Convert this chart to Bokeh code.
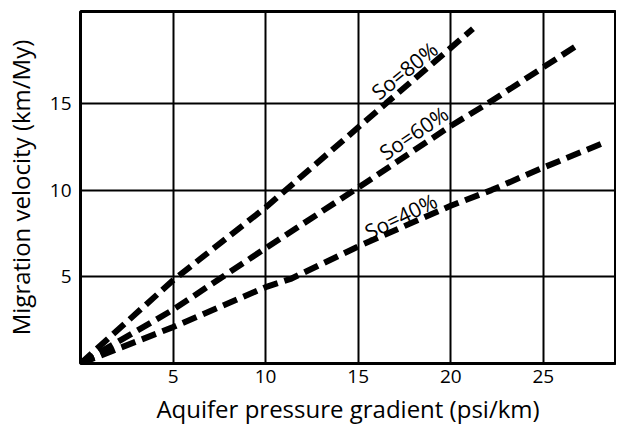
from bokeh.plotting import figure
from bokeh.models import FixedTicker, Range1d, ColumnDataSource
from bokeh.core.properties import value
from bokeh.embed import file_html
from bokeh.resources import INLINE
import math

# Data
x80 = [0, 5, 10, 16.5, 21.2]
y80 = [0, 4.8, 9.0, 15.0, 19.3]
x60 = [0, 5, 10, 14.8, 20, 22.0, 26.9]
y60 = [0, 3.1, 6.65, 10.0, 13.7, 15.0, 18.4]
x40 = [0, 5, 10, 11.4, 15, 20, 22.2, 25, 28.2]
y40 = [0, 2.1, 4.4, 4.9, 6.75, 9.1, 10.0, 11.3, 12.7]

label_text = ["So=80%", "So=60%", "So=40%"]
label_x = [17.5, 18.0, 17.3]
label_y = [16.9, 13.3, 8.5]
label_angle_deg = [39, 34, 26]

x_ticks = [5, 10, 15, 20, 25]
y_ticks = [5, 10, 15]

FONT = "Open Sans"

p = figure(width=616, height=427, output_backend="svg", toolbar_location=None,
           x_range=Range1d(0, 28.9), y_range=Range1d(0, 20.3),
           min_border_left=76, min_border_right=1, min_border_top=11, min_border_bottom=64)

p.outline_line_color = "black"
p.outline_line_width = 3
p.outline_line_alpha = 1

for ax in (p.xaxis[0], p.yaxis[0]):
    ax.axis_line_color = None
    ax.major_tick_line_color = None
    ax.minor_tick_line_color = None
    ax.major_tick_out = 0
    ax.major_tick_in = 0
    ax.major_label_text_font = FONT
    ax.major_label_text_font_size = "19px"
    ax.major_label_text_color = "black"
    ax.axis_label_text_font = FONT
    ax.axis_label_text_font_size = "24px"
    ax.axis_label_text_font_style = "normal"
    ax.axis_label_text_color = "black"

p.xaxis[0].ticker = FixedTicker(ticks=x_ticks)
p.yaxis[0].ticker = FixedTicker(ticks=y_ticks)
p.xaxis[0].axis_label = "Aquifer pressure gradient (psi/km)"
p.yaxis[0].axis_label = "Migration velocity (km/My)"
p.xaxis[0].major_label_standoff = 6
p.yaxis[0].major_label_standoff = 9
p.xaxis[0].axis_label_standoff = 6
p.yaxis[0].axis_label_standoff = 10

p.xgrid[0].ticker = FixedTicker(ticks=x_ticks)
p.ygrid[0].ticker = FixedTicker(ticks=y_ticks)
for g in (p.xgrid[0], p.ygrid[0]):
    g.grid_line_color = "black"
    g.grid_line_width = 2
    g.grid_line_alpha = 1

for xs, ys in ((x80, y80), (x60, y60), (x40, y40)):
    p.line(xs, ys, line_color="black", line_width=6, line_dash="15 7")

src = ColumnDataSource(dict(x=label_x, y=label_y, t=label_text,
                            a=[math.radians(d) for d in label_angle_deg]))
p.text(x="x", y="y", text="t", angle="a", source=src, text_font=value(FONT),
       text_font_size="21px", text_align="center", text_baseline="middle",
       text_color="black")

open("out.html", "w").write(file_html(p, INLINE))
